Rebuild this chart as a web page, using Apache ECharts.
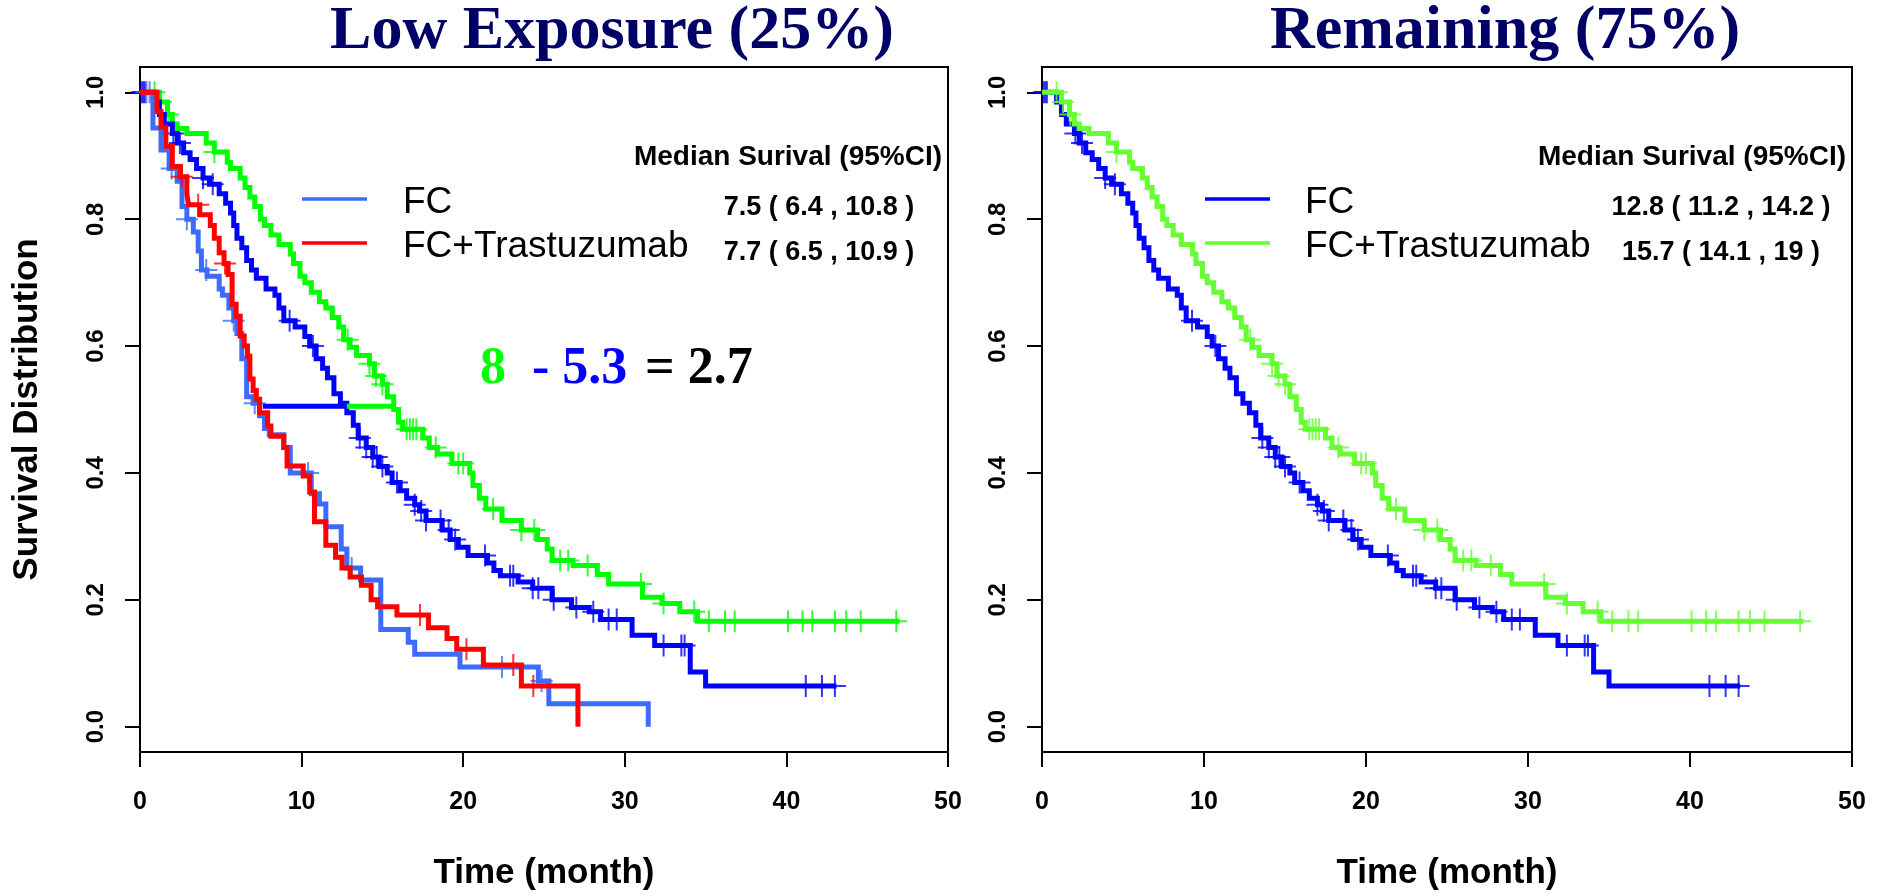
<!DOCTYPE html>
<html><head><meta charset="utf-8">
<script src="https://cdn.jsdelivr.net/npm/echarts@6/dist/echarts.min.js"></script>
<style>html,body{margin:0;padding:0;background:#fff}#c{width:1878px;height:896px}</style>
</head><body><div id="c"></div>
<script>
// ---------- data ----------
const xTicks = [0, 10, 20, 30, 40, 50];
const yTicks = [0, 0.2, 0.4, 0.6, 0.8, 1.0];
const panelTitles = ['Low Exposure (25%)', 'Remaining (75%)'];
const legendLabels = ['FC', 'FC+Trastuzumab'];
const medianHeader = 'Median Surival (95%CI)';
const medianLow = ['7.5 ( 6.4 , 10.8 )', '7.7 ( 6.5 , 10.9 )'];
const medianRem = ['12.8 ( 11.2 , 14.2 )', '15.7 ( 14.1 , 19 )'];
const diffParts = ['8', '- 5.3', '= 2.7'];

// Kaplan-Meier steps: [time, survival from this time on]
const lowFC = [[0,1.0],[0.8,0.944],[1.3,0.909],[1.8,0.88],[2.3,0.86],[2.6,0.82],[2.9,0.80],[3.3,0.78],[3.6,0.75],[3.8,0.72],[4.15,0.71],[4.9,0.69],[5.1,0.68],[5.5,0.66],[5.8,0.64],[6.0,0.62],[6.3,0.58],[6.6,0.52],[7.0,0.51],[7.4,0.49],[7.7,0.47],[8.0,0.46],[8.9,0.44],[9.3,0.40],[10.6,0.367],[11.1,0.351],[11.5,0.315],[12.45,0.28],[12.8,0.25],[13.65,0.231],[14.9,0.153],[16.6,0.133],[17.0,0.114],[19.8,0.094],[24.65,0.072],[25.3,0.036],[31.45,0.036],[31.45,0.0]];
const lowFCT = [[0,1.0],[1.05,0.97],[1.3,0.945],[1.6,0.915],[2.0,0.883],[2.5,0.867],[2.9,0.84],[3.0,0.823],[3.7,0.807],[4.35,0.79],[4.6,0.77],[4.9,0.747],[5.2,0.73],[5.45,0.713],[5.7,0.666],[5.95,0.647],[6.2,0.616],[6.45,0.60],[6.65,0.584],[6.8,0.548],[7.0,0.53],[7.2,0.516],[7.4,0.495],[7.9,0.474],[8.1,0.458],[8.9,0.44],[9.1,0.411],[10.1,0.395],[10.5,0.37],[10.8,0.323],[11.5,0.286],[12.1,0.267],[12.5,0.25],[13.0,0.236],[13.7,0.223],[14.3,0.20],[14.7,0.189],[15.9,0.176],[17.85,0.156],[19.0,0.139],[19.6,0.122],[21.25,0.097],[23.6,0.064],[27.1,0.064],[27.1,0.0]];
const remFC = [[0,1.0],[0.9,0.985],[1.2,0.965],[1.5,0.95],[2.0,0.935],[2.3,0.92],[2.7,0.905],[3.1,0.894],[3.5,0.88],[3.9,0.865],[4.3,0.855],[4.9,0.84],[5.3,0.825],[5.6,0.81],[5.8,0.79],[6.0,0.77],[6.3,0.755],[6.6,0.735],[6.9,0.72],[7.2,0.707],[7.8,0.69],[8.35,0.68],[8.6,0.66],[8.9,0.64],[9.6,0.63],[10.2,0.615],[10.5,0.60],[10.9,0.58],[11.3,0.565],[11.6,0.55],[12.0,0.525],[12.4,0.51],[12.8,0.495],[13.2,0.475],[13.5,0.455],[14.0,0.44],[14.4,0.425],[14.8,0.41],[15.3,0.40],[15.6,0.385],[16.1,0.372],[16.5,0.36],[17.0,0.35],[17.3,0.34],[17.7,0.325],[18.7,0.31],[19.2,0.295],[19.7,0.283],[20.3,0.27],[21.5,0.258],[21.9,0.246],[22.3,0.238],[23.4,0.228],[24.3,0.218],[25.5,0.20],[26.7,0.188],[27.8,0.181],[28.5,0.169],[30.45,0.144],[31.85,0.128],[34.05,0.086],[35.0,0.064],[43.1,0.064]];
const remFCT = [[0,1.0],[1.2,0.985],[1.7,0.965],[2.0,0.95],[2.3,0.943],[2.9,0.935],[4.1,0.92],[4.6,0.906],[5.4,0.89],[5.6,0.88],[6.2,0.865],[6.5,0.85],[6.8,0.835],[7.1,0.82],[7.45,0.80],[7.7,0.79],[8.1,0.775],[8.6,0.76],[9.3,0.745],[9.5,0.73],[9.9,0.71],[10.2,0.70],[10.6,0.685],[11.1,0.67],[11.5,0.66],[11.9,0.645],[12.3,0.63],[12.6,0.61],[13.0,0.598],[13.4,0.585],[14.2,0.572],[14.5,0.553],[15.0,0.54],[15.3,0.52],[15.7,0.50],[16.0,0.48],[16.25,0.469],[17.5,0.455],[17.9,0.44],[18.4,0.43],[19.3,0.415],[20.4,0.40],[20.6,0.38],[21.0,0.36],[21.4,0.343],[22.4,0.325],[23.6,0.31],[24.6,0.295],[25.2,0.28],[25.5,0.262],[26.8,0.254],[28.3,0.24],[29.0,0.225],[31.1,0.204],[32.3,0.194],[33.4,0.181],[34.5,0.166],[47.0,0.166]];

// censoring times
const censLowFC = [0.4, 0.6, 1.96, 2.9, 4.1, 5.8, 7.1, 10.4, 13.1, 22.4, 24.85];
const censLowFCT = [2.58, 3.6, 5.26, 17.33, 20.2, 23.1, 24.34];
const censRemFC = [0.1, 0.2, 0.3, 2.06, 2.47, 3.9, 4.5, 9.26, 10.7, 13.6, 14.0, 14.4, 14.65, 15.0, 15.9, 17.0, 17.4, 17.7, 18.6, 19.1, 19.5, 21.35, 22.9, 23.1, 24.3, 24.65, 25.6, 27.0, 28.05, 29.0, 29.5, 32.4, 33.5, 33.7, 41.2, 42.2, 43.0];
const censRemFCT = [0.9, 1.3, 1.75, 4.6, 12.85, 14.2, 14.6, 15.0, 16.5, 16.7, 16.9, 17.1, 18.3, 19.7, 20.0, 21.85, 23.6, 24.4, 26.0, 26.5, 27.7, 31.0, 32.4, 34.3, 35.2, 36.2, 36.8, 40.1, 41.0, 41.6, 43.0, 43.7, 44.6, 46.8];

// median difference segments in left panel
const medianSegFC = [[7.6, 0.505], [12.8, 0.505]];
const medianSegFCT = [[12.8, 0.505], [15.8, 0.505]];

// ---------- colours ----------
const C = {lightBlue:'#3d6bff', red:'#ff0000', blue:'#0000ff', green:'#00ff00', lightGreen:'#66ff33', title:'#000066'};

function survAt(curve, t){ let s = curve[0][1]; for (const p of curve){ if (p[0] <= t) s = p[1]; else break; } return s; }
const PLUS = 'path://M-1,-11L1,-11L1,-1L11,-1L11,1L1,1L1,11L-1,11L-1,1L-11,1L-11,-1L-1,-1Z';

function kmLine(name, data, color, g, z){
  return {type:'line', name, data, step:'end', xAxisIndex:g, yAxisIndex:g, showSymbol:false, symbol:'none',
    lineStyle:{color, width:5, cap:'butt', join:'miter'}, z, animation:false, silent:true};
}
function cens(name, times, curve, color, g, z){
  return {type:'scatter', name, data: times.map(t => [t, survAt(curve, t)]), xAxisIndex:g, yAxisIndex:g,
    symbol:PLUS, symbolSize:22, itemStyle:{color}, z, animation:false, silent:true};
}
function seg(name, data, color){
  return {type:'line', name, data, xAxisIndex:0, yAxisIndex:0, showSymbol:false, symbol:'none',
    lineStyle:{color, width:5, cap:'butt'}, z:6, animation:false, silent:true};
}

const grids = [
  {left:140, top:67, width:808, height:687, show:true, borderColor:'#000', borderWidth:2, backgroundColor:'transparent'},
  {left:1042, top:67, width:810, height:687, show:true, borderColor:'#000', borderWidth:2, backgroundColor:'transparent'}
];
const axFont = {fontFamily:'Liberation Sans, Arial, sans-serif', fontWeight:'bold', color:'#000'};
function xAx(i){
  return {type:'value', gridIndex:i, min:0, max:50, interval:10,
    axisLine:{show:false, onZero:false}, splitLine:{show:false},
    axisTick:{show:true, inside:false, length:15, lineStyle:{color:'#000', width:2}},
    axisLabel:Object.assign({fontSize:25, margin:38}, axFont),
    name:'Time (month)', nameLocation:'middle', nameGap:104,
    nameTextStyle:Object.assign({fontSize:35}, axFont)};
}
function yAx(i){
  const o = {type:'value', gridIndex:i, min:-0.04, max:1.04,
    axisLine:{show:false, onZero:false}, splitLine:{show:false},
    axisTick:{show:true, inside:false, length:15, lineStyle:{color:'#000', width:2}, customValues:yTicks},
    axisLabel:Object.assign({fontSize:24, margin:32, rotate:90, customValues:yTicks, formatter:v => v.toFixed(1)}, axFont)};
  if (i === 0){
    o.name = 'Survival Distribution'; o.nameLocation = 'middle'; o.nameRotate = 90; o.nameGap = 95;
    o.nameTextStyle = Object.assign({fontSize:35}, axFont);
  }
  return o;
}

function txt(x, y, text, font, color, align){
  return {type:'text', x, y, silent:true, style:{text, font, fill:color||'#000', align:align||'left', verticalAlign:'middle'}};
}
function lineG(x1, x2, y, color){
  return {type:'line', silent:true, shape:{x1, y1:y, x2, y2:y}, style:{stroke:color, lineWidth:3.5}};
}
const serifTitle = 'bold 62px "Liberation Serif", "Times New Roman", serif';
const legFont = '37px "Liberation Sans", Arial, sans-serif';
const medHeadFont = 'bold 28px "Liberation Sans", Arial, sans-serif';
const medFont = 'bold 27px "Liberation Sans", Arial, sans-serif';
const diffFont = 'bold 52px "Liberation Serif", "Times New Roman", serif';

const graphics = [
  txt(612, 32, panelTitles[0], serifTitle, C.title, 'center'),
  txt(1505, 32, panelTitles[1], serifTitle, C.title, 'center'),
  // left legend
  lineG(302, 367, 199, C.lightBlue), lineG(302, 367, 243, C.red),
  txt(403, 203, legendLabels[0], legFont), txt(403, 247, legendLabels[1], legFont),
  // right legend
  lineG(1205, 1270, 199, C.blue), lineG(1205, 1270, 243, C.lightGreen),
  txt(1305, 203, legendLabels[0], legFont), txt(1305, 247, legendLabels[1], legFont),
  // median tables
  txt(942, 157, medianHeader, medHeadFont, '#000', 'right'),
  txt(819, 208, medianLow[0], medFont, '#000', 'center'),
  txt(819, 253, medianLow[1], medFont, '#000', 'center'),
  txt(1846, 157, medianHeader, medHeadFont, '#000', 'right'),
  txt(1721, 208, medianRem[0], medFont, '#000', 'center'),
  txt(1721, 253, medianRem[1], medFont, '#000', 'center'),
  // difference annotation
  txt(480, 370, diffParts[0], diffFont, C.green),
  txt(532, 370, diffParts[1], diffFont, C.blue),
  txt(645, 370, diffParts[2], diffFont, '#000')
];

const series = [
  kmLine('FC+T remaining (L)', remFCT, C.green, 0, 2),
  kmLine('FC remaining (L)', remFC, C.blue, 0, 3),
  kmLine('FC low', lowFC, C.lightBlue, 0, 4),
  kmLine('FC+T low', lowFCT, C.red, 0, 5),
  seg('median FC', medianSegFC, C.blue),
  seg('median FC+T', medianSegFCT, C.green),
  cens('cens FC+T remaining (L)', censRemFCT, remFCT, C.green, 0, 2),
  cens('cens FC remaining (L)', censRemFC, remFC, C.blue, 0, 3),
  cens('cens FC low', censLowFC, lowFC, C.lightBlue, 0, 4),
  cens('cens FC+T low', censLowFCT, lowFCT, C.red, 0, 5),
  kmLine('FC remaining', remFC, C.blue, 1, 2),
  kmLine('FC+T remaining', remFCT, C.lightGreen, 1, 3),
  cens('cens FC remaining', censRemFC, remFC, C.blue, 1, 2),
  cens('cens FC+T remaining', censRemFCT, remFCT, C.lightGreen, 1, 3)
];

const chart = echarts.init(document.getElementById('c'), null, {renderer:'canvas'});
chart.setOption({
  animation:false,
  backgroundColor:'#fff',
  grid:grids,
  xAxis:[xAx(0), xAx(1)],
  yAxis:[yAx(0), yAx(1)],
  series,
  graphic:graphics
});
</script>
</body></html>
